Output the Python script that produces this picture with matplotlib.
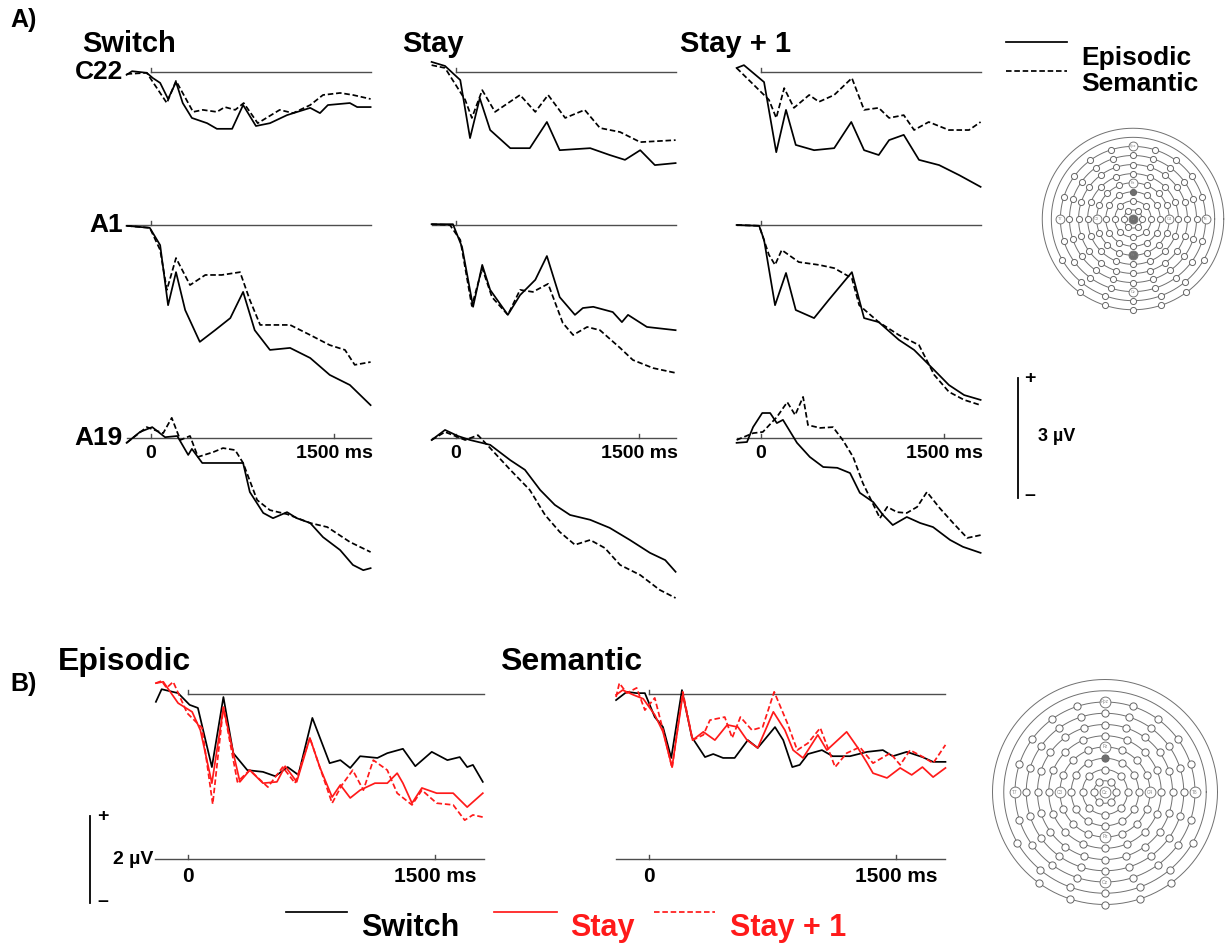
import numpy as np
import matplotlib
matplotlib.use("Agg")
import matplotlib.pyplot as plt
from matplotlib.lines import Line2D

plt.rcParams['font.family'] = ['Liberation Sans', 'DejaVu Sans']
plt.rcParams['font.weight'] = 'bold'

# ---- data: grand-average ERPs (time in ms, amplitude in uV)
# A) electrode C22
C22_SWITCH_EPI_T = [-200, -155, -35, 15, 75, 140, 205, 260, 335, 460, 540, 665, 755, 860, 975, 1115, 1305, 1385, 1450, 1630, 1690, 1800]
C22_SWITCH_EPI_V = [-0.07, 0.02, -0.02, -0.15, -0.27, -0.67, -0.25, -0.77, -1.14, -1.27, -1.41, -1.41, -0.82, -1.34, -1.27, -1.07, -0.89, -1.02, -0.82, -0.77, -0.87, -0.87]
C22_SWITCH_SEM_T = [-200, -35, 130, 205, 345, 425, 540, 605, 690, 760, 875, 1055, 1165, 1305, 1410, 1550, 1655, 1800]
C22_SWITCH_SEM_V = [-0.05, -0.02, -0.77, -0.22, -0.99, -0.94, -0.99, -0.87, -0.94, -0.77, -1.27, -0.94, -1.02, -0.82, -0.57, -0.52, -0.57, -0.67]
C22_STAY_EPI_T = [-200, -90, 35, 115, 195, 280, 445, 605, 745, 850, 1100, 1260, 1385, 1510, 1630, 1800]
C22_STAY_EPI_V = [0.25, 0.15, -0.20, -1.64, -0.65, -1.44, -1.89, -1.89, -1.24, -1.94, -1.89, -2.06, -2.18, -1.94, -2.31, -2.26]
C22_STAY_SEM_T = [-200, -90, 75, 130, 215, 320, 525, 650, 755, 895, 1055, 1180, 1345, 1510, 1800]
C22_STAY_SEM_V = [0.17, 0.10, -0.69, -1.14, -0.45, -0.99, -0.57, -0.99, -0.57, -1.14, -0.94, -1.39, -1.49, -1.74, -1.69]
C22_STAY1_EPI_T = [-200, -140, 25, 125, 205, 285, 435, 600, 740, 845, 965, 1050, 1170, 1295, 1460, 1625, 1800]
C22_STAY1_EPI_V = [0.10, 0.17, -0.25, -1.99, -0.94, -1.81, -1.94, -1.89, -1.24, -1.94, -2.06, -1.69, -1.56, -2.18, -2.31, -2.56, -2.85]
C22_STAY1_SEM_T = [-200, 65, 125, 190, 270, 395, 475, 600, 745, 845, 965, 1050, 1170, 1255, 1375, 1540, 1705, 1800]
C22_STAY1_SEM_V = [0.10, -0.69, -1.14, -0.40, -0.89, -0.57, -0.74, -0.57, -0.15, -0.94, -0.89, -1.14, -1.07, -1.44, -1.24, -1.44, -1.44, -1.24]

# A) electrode A1
A1_SWITCH_EPI_T = [-200, -10, 75, 140, 205, 280, 400, 525, 650, 755, 850, 975, 1140, 1305, 1465, 1630, 1800]
A1_SWITCH_EPI_V = [-0.02, -0.07, -0.50, -1.99, -1.17, -2.11, -2.90, -2.61, -2.31, -1.66, -2.61, -3.10, -3.05, -3.30, -3.72, -3.97, -4.47]
A1_SWITCH_SEM_T = [-200, -10, 75, 130, 205, 320, 445, 580, 730, 810, 895, 1140, 1305, 1465, 1590, 1670, 1800]
A1_SWITCH_SEM_V = [-0.02, -0.07, -0.62, -1.61, -0.82, -1.49, -1.24, -1.24, -1.17, -1.86, -2.48, -2.48, -2.73, -2.98, -3.10, -3.47, -3.40]
A1_STAY_EPI_T = [-200, -25, 50, 140, 215, 280, 425, 525, 650, 745, 850, 975, 1040, 1125, 1285, 1360, 1410, 1565, 1800]
A1_STAY_EPI_V = [0.02, 0.02, -0.55, -2.03, -0.99, -1.61, -2.23, -1.74, -1.36, -0.77, -1.79, -2.23, -2.06, -2.03, -2.16, -2.41, -2.23, -2.53, -2.61]
A1_STAY_SEM_T = [-200, -50, 35, 130, 215, 295, 425, 525, 630, 755, 875, 960, 1075, 1180, 1345, 1450, 1615, 1800]
A1_STAY_SEM_V = [0.02, 0.0, -0.37, -2.01, -1.07, -1.79, -2.23, -1.61, -1.66, -1.46, -2.43, -2.73, -2.53, -2.61, -3.05, -3.35, -3.55, -3.67]
A1_STAY1_EPI_T = [-200, -15, 25, 115, 205, 285, 435, 555, 745, 845, 965, 1130, 1255, 1420, 1540, 1665, 1800]
A1_STAY1_EPI_V = [0.0, -0.02, -0.37, -1.99, -1.19, -2.11, -2.31, -1.86, -1.17, -2.31, -2.41, -2.85, -3.10, -3.60, -3.97, -4.22, -4.34]
A1_STAY1_SEM_T = [-200, -15, 65, 115, 170, 310, 475, 600, 745, 805, 965, 1130, 1295, 1420, 1540, 1665, 1800]
A1_STAY1_SEM_V = [0.0, -0.02, -0.74, -0.99, -0.62, -0.92, -0.99, -1.07, -1.32, -1.99, -2.41, -2.73, -2.98, -3.72, -4.14, -4.34, -4.47]

# A) electrode A19
A19_SWITCH_EPI_T = [-200, -90, 10, 115, 215, 305, 335, 420, 590, 755, 810, 920, 1000, 1115, 1195, 1305, 1410, 1550, 1655, 1740, 1800]
A19_SWITCH_EPI_V = [-0.12, 0.15, 0.27, 0.02, 0.05, -0.42, -0.27, -0.62, -0.62, -0.62, -1.34, -1.86, -1.99, -1.84, -1.99, -2.11, -2.46, -2.78, -3.15, -3.28, -3.23]
A19_SWITCH_SEM_T = [-200, -35, 100, 170, 240, 320, 385, 510, 590, 690, 755, 870, 975, 1115, 1305, 1445, 1630, 1800]
A19_SWITCH_SEM_V = [-0.12, 0.27, 0.12, 0.50, -0.05, 0.05, -0.47, -0.35, -0.25, -0.30, -0.62, -1.54, -1.79, -1.89, -2.11, -2.21, -2.58, -2.83]
A19_STAY_EPI_T = [-200, -90, 15, 115, 280, 445, 565, 690, 810, 935, 1100, 1260, 1425, 1590, 1715, 1800]
A19_STAY_EPI_V = [-0.05, 0.20, 0.05, -0.05, -0.17, -0.55, -0.79, -1.29, -1.66, -1.91, -2.03, -2.23, -2.53, -2.85, -3.03, -3.32]
A19_STAY_SEM_T = [-200, -90, 75, 180, 280, 445, 605, 730, 850, 975, 1100, 1220, 1345, 1510, 1670, 1800]
A19_STAY_SEM_V = [-0.05, 0.15, -0.05, 0.07, -0.25, -0.79, -1.29, -1.91, -2.33, -2.65, -2.53, -2.73, -3.15, -3.40, -3.77, -3.97]
A19_STAY1_EPI_T = [-200, -115, -65, 10, 75, 130, 180, 295, 400, 510, 625, 730, 810, 920, 1000, 1080, 1195, 1305, 1410, 1550, 1655, 1800]
A19_STAY1_EPI_V = [-0.12, -0.10, 0.27, 0.62, 0.62, 0.37, 0.45, -0.12, -0.47, -0.72, -0.74, -0.87, -1.36, -1.59, -1.91, -2.16, -1.96, -2.11, -2.21, -2.53, -2.70, -2.85]
A19_STAY1_SEM_T = [-200, -65, 15, 130, 215, 280, 345, 385, 485, 590, 670, 755, 835, 975, 1035, 1115, 1195, 1280, 1360, 1465, 1575, 1690, 1800]
A19_STAY1_SEM_V = [-0.05, 0.12, 0.15, 0.52, 0.89, 0.57, 1.02, 0.32, 0.25, 0.27, -0.05, -0.47, -1.12, -1.99, -1.71, -1.84, -1.86, -1.71, -1.34, -1.74, -2.11, -2.48, -2.41]

# B) episodic / semantic, three trial types
B_EPI_SWITCH_T = [-195, -160, -60, 10, 60, 145, 215, 275, 360, 455, 530, 605, 670, 755, 860, 925, 985, 1045, 1150, 1210, 1305, 1380, 1480, 1575, 1650, 1695, 1730, 1790]
B_EPI_SWITCH_V = [-0.18, 0.11, 0.02, -0.25, -0.32, -1.68, -0.07, -1.36, -1.75, -1.79, -1.89, -1.68, -1.86, -0.55, -1.59, -1.52, -1.70, -1.43, -1.47, -1.36, -1.26, -1.66, -1.33, -1.52, -1.45, -1.68, -1.63, -2.02]
B_EPI_STAY_T = [-195, -150, -60, 25, 75, 145, 215, 285, 315, 375, 455, 540, 590, 660, 740, 800, 875, 925, 985, 1045, 1135, 1210, 1270, 1305, 1360, 1420, 1510, 1610, 1695, 1790]
B_EPI_STAY_V = [0.25, 0.28, -0.21, -0.41, -0.83, -2.05, -0.32, -1.52, -2.02, -1.75, -2.05, -2.02, -1.66, -2.02, -1.01, -1.68, -2.37, -2.09, -2.39, -2.21, -2.05, -2.05, -1.82, -2.05, -2.51, -2.16, -2.28, -2.28, -2.60, -2.28]
B_EPI_STAY1_T = [-195, -160, -130, -90, -5, 85, 150, 215, 300, 375, 485, 575, 650, 740, 800, 875, 935, 1000, 1065, 1125, 1210, 1270, 1360, 1420, 1510, 1610, 1680, 1730, 1790]
B_EPI_STAY1_V = [0.25, 0.30, 0.14, 0.28, -0.44, -0.78, -2.53, -0.30, -2.02, -1.75, -2.14, -1.68, -2.05, -1.01, -1.68, -2.51, -2.09, -1.75, -2.21, -1.52, -1.75, -2.28, -2.55, -2.21, -2.51, -2.55, -2.90, -2.78, -2.83]
B_SEM_SWITCH_T = [-200, -135, -75, -25, 35, 85, 135, 200, 260, 340, 390, 450, 520, 600, 660, 765, 815, 870, 915, 965, 1050, 1115, 1220, 1325, 1420, 1480, 1565, 1660, 1725, 1800]
B_SEM_SWITCH_V = [-0.14, 0.05, 0.02, 0.02, -0.53, -0.76, -1.47, 0.09, -0.99, -1.45, -1.38, -1.47, -1.47, -1.06, -1.24, -0.76, -1.06, -1.68, -1.63, -1.38, -1.29, -1.43, -1.43, -1.33, -1.29, -1.43, -1.33, -1.45, -1.56, -1.56]
B_SEM_STAY_T = [-200, -160, -95, -35, 35, 85, 140, 205, 265, 330, 400, 475, 540, 595, 660, 755, 825, 875, 935, 1025, 1080, 1200, 1265, 1325, 1360, 1445, 1525, 1595, 1660, 1725, 1800]
B_SEM_STAY_V = [-0.02, 0.09, -0.02, -0.11, -0.48, -0.87, -1.68, -0.02, -1.06, -0.87, -1.06, -0.71, -0.76, -1.06, -1.24, -0.41, -0.83, -1.29, -1.47, -0.94, -1.29, -0.87, -1.22, -1.59, -1.82, -1.93, -1.70, -1.86, -1.68, -1.91, -1.70]
B_SEM_STAY1_T = [-200, -180, -135, -75, -25, 35, 85, 140, 205, 265, 330, 370, 460, 505, 555, 625, 690, 760, 840, 900, 965, 1040, 1130, 1200, 1280, 1360, 1465, 1525, 1585, 1665, 1725, 1800]
B_SEM_STAY1_V = [-0.07, 0.25, 0.02, 0.14, -0.37, -0.09, -0.83, -1.70, 0.05, -1.06, -0.94, -0.60, -0.53, -1.01, -0.53, -0.83, -0.76, 0.05, -0.67, -1.29, -1.13, -0.78, -1.68, -1.36, -1.22, -1.59, -1.36, -1.63, -1.29, -1.45, -1.59, -1.17]

A_COLUMNS = ["Switch", "Stay", "Stay + 1"]
A_ROWS = ["C22", "A1", "A19"]
B_PANELS = ["Episodic", "Semantic"]
EPOCH = (-200, 1800)

# electrode layout (concentric rings, BioSemi style)
RING_COUNTS = [6, 8, 12, 16, 16, 20, 20, 20]
RING9_ANGLES = [-60, -40, -20, 0, 20, 40, 60]     # degrees from the back of the head
RING10_ANGLES = [-36, -18, 0, 18, 36]
LABELED = {"Fpz": (8, 90), "Fz": (4, 90), "Cz": (0, 0), "C3": (4, 180), "C4": (4, 0),
           "Pz": (4, 270), "Oz": (8, 270), "T7": (8, 180), "T8": (8, 0)}

# ---- layout (pixels of the 1230 x 949 canvas)
W, H = 1230, 949
A_MS, A_UV = 0.122, 40.3
A_ZERO = [151, 456, 761]
A_BASE = [72, 225, 438]
B_MS, B_UV = 0.1647, 43.5
B_ZERO = [188, 649]
B_BASE, B_AXIS = 694, 859

RED = "#ff1a1a"
DASH = (0, (3.2, 1.6))
GREY = "#4d4d4d"
LW = 1.25

fig = plt.figure(figsize=(W / 100, H / 100), dpi=100)


def ftext(x, y, s, **kw):
    kw.setdefault("ha", "left")
    kw.setdefault("va", "center")
    fig.text(x / W, 1 - y / H, s, **kw)


def panel(x_zero, y_base, ms, uv, tlim=(-700, 2250), vlim=(-5.3, 2.0)):
    left = x_zero + tlim[0] * ms
    right = x_zero + tlim[1] * ms
    top = y_base - vlim[1] * uv
    bottom = y_base - vlim[0] * uv
    ax = fig.add_axes([left / W, 1 - bottom / H, (right - left) / W, (bottom - top) / H])
    ax.set_xlim(tlim)
    ax.set_ylim(vlim)
    ax.axis("off")
    return ax


def trace(ax, t, v, color="k", ls="-"):
    ax.plot(t, v, color=color, ls=ls, lw=LW, solid_joinstyle="round",
            dash_joinstyle="round", clip_on=False)


# ---- part A
A_TRACES = {
    ("C22", "Switch"): (C22_SWITCH_EPI_T, C22_SWITCH_EPI_V, C22_SWITCH_SEM_T, C22_SWITCH_SEM_V),
    ("C22", "Stay"): (C22_STAY_EPI_T, C22_STAY_EPI_V, C22_STAY_SEM_T, C22_STAY_SEM_V),
    ("C22", "Stay + 1"): (C22_STAY1_EPI_T, C22_STAY1_EPI_V, C22_STAY1_SEM_T, C22_STAY1_SEM_V),
    ("A1", "Switch"): (A1_SWITCH_EPI_T, A1_SWITCH_EPI_V, A1_SWITCH_SEM_T, A1_SWITCH_SEM_V),
    ("A1", "Stay"): (A1_STAY_EPI_T, A1_STAY_EPI_V, A1_STAY_SEM_T, A1_STAY_SEM_V),
    ("A1", "Stay + 1"): (A1_STAY1_EPI_T, A1_STAY1_EPI_V, A1_STAY1_SEM_T, A1_STAY1_SEM_V),
    ("A19", "Switch"): (A19_SWITCH_EPI_T, A19_SWITCH_EPI_V, A19_SWITCH_SEM_T, A19_SWITCH_SEM_V),
    ("A19", "Stay"): (A19_STAY_EPI_T, A19_STAY_EPI_V, A19_STAY_SEM_T, A19_STAY_SEM_V),
    ("A19", "Stay + 1"): (A19_STAY1_EPI_T, A19_STAY1_EPI_V, A19_STAY1_SEM_T, A19_STAY1_SEM_V),
}

tick_a = 4 / A_UV
for r, row in enumerate(A_ROWS):
    for c, col in enumerate(A_COLUMNS):
        ax = panel(A_ZERO[c], A_BASE[r], A_MS, A_UV)
        start = 0 if row == "C22" else EPOCH[0]
        ax.plot([start, EPOCH[1]], [0, 0], color=GREY, lw=1.0, clip_on=False)
        ax.plot([0, 0], [0, tick_a], color=GREY, lw=1.0, clip_on=False)
        te, ve, ts, vs = A_TRACES[(row, col)]
        trace(ax, ts, vs, ls=DASH)
        trace(ax, te, ve)
        if row == "A19":
            ax.plot([1500, 1500], [0, tick_a], color=GREY, lw=1.0, clip_on=False)
            ax.text(0, -16 / A_UV, "0", ha="center", va="center", fontsize=14)
            ax.text(1500, -16 / A_UV, "1500 ms", ha="center", va="center", fontsize=14)
        if row == "A19" and col == "Stay + 1":
            # 3 uV calibration bar
            tb = (1018 - A_ZERO[2]) / A_MS
            ax.plot([tb, tb], [-1.5, 1.5], color="k", lw=1.3, clip_on=False)

for c, col in enumerate(A_COLUMNS):
    ftext([82, 402, 680][c], 44, col, fontsize=21)
for r, row in enumerate(A_ROWS):
    ftext(123, A_BASE[r], row, ha="right", fontsize=19)

ftext(10, 20, "A)", fontsize=18)
ftext(1030, 379, "+", ha="center", fontsize=14)
ftext(1057, 437, "3 µV", ha="center", fontsize=13)
ftext(1030, 496, "–", ha="center", fontsize=14)

# legend A
for y, ls in [(42, "-"), (71, DASH)]:
    fig.add_artist(Line2D([1006 / W, 1067 / W], [1 - y / H] * 2, color="k", lw=LW, ls=ls))
ftext(1081, 58, "Episodic", fontsize=19)
ftext(1081, 84, "Semantic", fontsize=19)

# ---- part B
B_TRACES = {
    "Episodic": [(B_EPI_SWITCH_T, B_EPI_SWITCH_V), (B_EPI_STAY_T, B_EPI_STAY_V), (B_EPI_STAY1_T, B_EPI_STAY1_V)],
    "Semantic": [(B_SEM_SWITCH_T, B_SEM_SWITCH_V), (B_SEM_STAY_T, B_SEM_STAY_V), (B_SEM_STAY1_T, B_SEM_STAY1_V)],
}
axis_v = (B_BASE - B_AXIS) / B_UV
tick_b = 4 / B_UV
for p, name in enumerate(B_PANELS):
    ax = panel(B_ZERO[p], B_BASE, B_MS, B_UV, tlim=(-700, 2000), vlim=(-5.4, 1.2))
    ax.plot([0, EPOCH[1]], [0, 0], color=GREY, lw=1.0, clip_on=False)
    ax.plot([0, 0], [0, tick_b], color=GREY, lw=1.0, clip_on=False)
    ax.plot(EPOCH, [axis_v, axis_v], color=GREY, lw=1.0, clip_on=False)
    for tk in (0, 1500):
        ax.plot([tk, tk], [axis_v, axis_v + tick_b], color=GREY, lw=1.0, clip_on=False)
    ax.text(0, axis_v - 18 / B_UV, "0", ha="center", va="center", fontsize=15)
    ax.text(1500, axis_v - 18 / B_UV, "1500 ms", ha="center", va="center", fontsize=15)
    (t0, v0), (t1, v1), (t2, v2) = B_TRACES[name]
    trace(ax, t0, v0, color="k")
    trace(ax, t2, v2, color=RED, ls=DASH)
    trace(ax, t1, v1, color=RED)
    if name == "Episodic":
        tb = (90 - B_ZERO[0]) / B_MS
        ax.plot([tb, tb], [axis_v - 1, axis_v + 1], color="k", lw=1.3, clip_on=False)
    ftext([58, 500][p], 662, name, fontsize=23)

ftext(10, 684, "B)", fontsize=18)
ftext(103, 816, "+", ha="center", fontsize=14)
ftext(153, 859, "2 µV", ha="right", fontsize=14)
ftext(103, 902, "–", ha="center", fontsize=14)

# legend B
for x0, x1, color, ls in [(286, 347, "k", "-"), (494, 557, RED, "-"), (654, 715, RED, DASH)]:
    fig.add_artist(Line2D([x0 / W, x1 / W], [1 - 912 / H] * 2, color=color, lw=LW, ls=ls))
ftext(361, 928, "Switch", fontsize=22, color="k")
ftext(570, 928, "Stay", fontsize=22, color=RED)
ftext(730, 928, "Stay + 1", fontsize=22, color=RED)


# ---- electrode maps
def head(cx, cy, R, ms_small, ms_big, dark, lab_size):
    ext = 1.33
    ax = fig.add_axes([(cx - ext * R) / W, 1 - (cy + ext * R) / H, 2 * ext * R / W, 2 * ext * R / H])
    ax.set_xlim(-ext, ext)
    ax.set_ylim(-ext, ext)
    ax.axis("off")
    th = np.linspace(0, 2 * np.pi, 361)
    for k in range(1, 11):
        ax.plot(k / 8 * np.cos(th), k / 8 * np.sin(th), color="#707070", lw=0.7)
    pts = []
    for k, n in enumerate(RING_COUNTS, start=1):
        a0 = 0 if n % 4 else 90
        for i in range(n):
            pts.append((k, (a0 + 360 / n * i) % 360))
    for k, angs in [(9, RING9_ANGLES), (10, RING10_ANGLES)]:
        for a in angs:
            pts.append((k, (270 + a) % 360))
    big = set(LABELED.values())
    for k, a in pts:
        if (k, round(a) % 360) in big:
            continue
        x, y = k / 8 * np.cos(np.radians(a)), k / 8 * np.sin(np.radians(a))
        face = "#6e6e6e" if (k, round(a) % 360) in dark else "white"
        ax.plot(x, y, "o", ms=ms_small, mfc=face, mec="#666666", mew=0.7)
    for lab, (k, a) in LABELED.items():
        x, y = k / 8 * np.cos(np.radians(a)), k / 8 * np.sin(np.radians(a))
        face = "#6e6e6e" if (k, a) in dark else "white"
        ax.plot(x, y, "o", ms=ms_big, mfc=face, mec="#777777", mew=0.7)
        ax.text(x, y, lab, ha="center", va="center", fontsize=lab_size, color="#888888",
                fontweight="normal")


head(1133, 219, 72.6, 4.4, 6.4, {(0, 0), (3, 90), (4, 270)}, 2.8)
head(1105, 792, 90, 5.2, 7.8, {(3, 90)}, 3.4)

fig.savefig("out.png", dpi=100)
